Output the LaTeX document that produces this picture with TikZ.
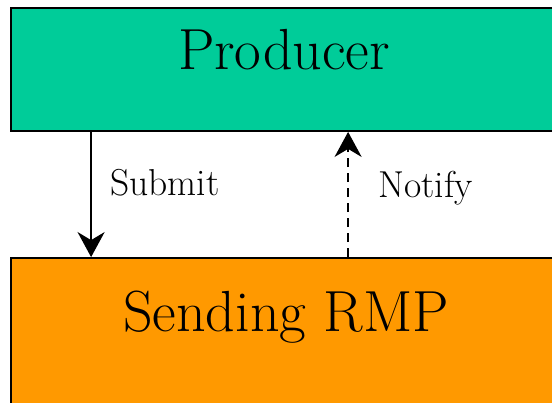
\documentclass[tikz,border=0pt]{standalone}
\usetikzlibrary{arrows.meta}
\definecolor{producergreen}{RGB}{0,204,153}
\definecolor{senderorange}{RGB}{255,153,0}
\tikzset{
  block/.style={draw=black, line width=1.8pt, rectangle, inner sep=0pt,
    minimum width=546pt},
  boxtitle/.style={font=\fontsize{58}{64}\selectfont, anchor=base, inner sep=0pt},
  flowlabel/.style={font=\fontsize{37.5}{42}\selectfont, anchor=base west, inner sep=0pt},
  flowarrow/.style={line width=2pt,
    -{Stealth[length=25pt, width=27pt, inset=8pt]}},
}
\begin{document}
\begin{tikzpicture}[x=1pt, y=-1pt]
  \useasboundingbox (0,0) rectangle (552,402);
  % the two blocks
  \node[block, fill=producergreen, minimum height=123pt] (producer) at (284,69.5) {};
  \node[block, fill=senderorange, minimum height=172pt] (sender) at (284,344) {};
  \node[boxtitle] (producertext) at (284,69) {Producer};
  \node[boxtitle] (sendertext) at (286,331) {Sending RMP};
  % submit: producer down to sender
  \draw[flowarrow] (producer.south west) ++(81,0) coordinate (submittop)
    -- (submittop |- sender.north);
  % notify: sender back up to producer
  \draw[flowarrow, dash pattern=on 9pt off 6pt] (sender.north west) ++(338,0)
    coordinate (notifybottom) -- (notifybottom |- producer.south);
  \node[flowlabel] (submitlabel) at (110,195) {Submit};
  \node[flowlabel] (notifylabel) at (378,197) {Notify};
\end{tikzpicture}
\end{document}
